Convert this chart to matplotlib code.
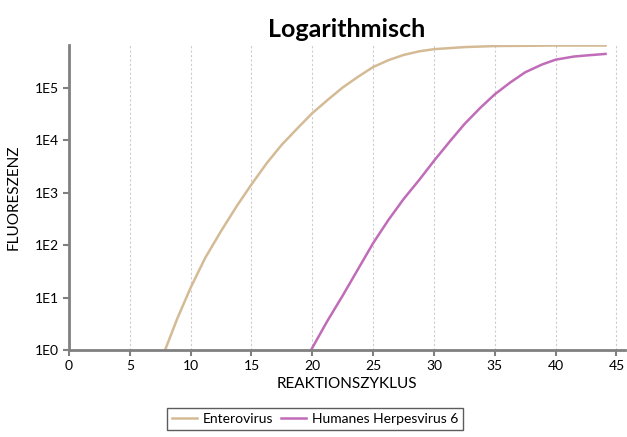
import numpy as np
import matplotlib.pyplot as plt
from matplotlib.ticker import FixedLocator, FixedFormatter, NullLocator

plt.rcParams['font.family'] = ['Lato', 'DejaVu Sans']

# Enterovirus (Zyklus, log10 Fluoreszenz)
entero_x = [7.9, 8.9, 10, 11.2, 12.5, 13.8, 15, 16.27, 17.5, 18.9, 20, 21.3, 22.5, 23.8,
            25, 26.25, 27.5, 28.8, 30, 32.5, 35, 40, 44.1]
entero_y = [0.0, 0.6, 1.19, 1.76, 2.27, 2.75, 3.16, 3.57, 3.92, 4.26, 4.52, 4.78, 5.01, 5.22,
            5.40, 5.53, 5.63, 5.70, 5.74, 5.78, 5.80, 5.81, 5.81]

# Humanes Herpesvirus 6
hhv6_x = [19.9, 21.2, 22.5, 23.8, 25, 26.25, 27.5, 28.8, 30, 31.3, 32.5, 33.8, 35, 36.3,
          37.5, 38.9, 40, 41.5, 42.5, 44.1]
hhv6_y = [0.0, 0.54, 1.04, 1.56, 2.04, 2.48, 2.88, 3.25, 3.61, 3.98, 4.31, 4.62, 4.88, 5.11,
          5.30, 5.45, 5.54, 5.60, 5.62, 5.65]

xticks = [0, 5, 10, 15, 20, 25, 30, 35, 40, 45]
ytick_labels = ['1E0', '1E1', '1E2', '1E3', '1E4', '1E5']

fig = plt.figure(figsize=(6.27, 4.37), dpi=100)
ax = fig.add_axes([69/627, 1 - 350/437, 556/627, 305/437])

ax.plot(entero_x, 10 ** np.array(entero_y), color='#d4bb96', lw=1.8, label='Enterovirus')
ax.plot(hhv6_x, 10 ** np.array(hhv6_y), color='#c06cb8', lw=1.8, label='Humanes Herpesvirus 6')

ax.set_yscale('log')
ax.set_xlim(0, 45.7)
ax.set_ylim(1, 10 ** 5.82)
ax.xaxis.set_major_locator(FixedLocator(xticks))
ax.yaxis.set_major_locator(FixedLocator([10 ** i for i in range(6)]))
ax.yaxis.set_major_formatter(FixedFormatter(ytick_labels))
ax.yaxis.set_minor_locator(NullLocator())

ax.grid(axis='x', color='#cccccc', linestyle=(0, (2, 2)), lw=0.8)
ax.grid(axis='y', visible=False)
for s in ['top', 'right']:
    ax.spines[s].set_visible(False)
for s in ['left', 'bottom']:
    ax.spines[s].set_color('#808080')
    ax.spines[s].set_linewidth(2)
ax.tick_params(axis='both', colors='#808080', labelcolor='black', labelsize=10, length=4, width=1.5)

ax.set_xlabel('REAKTIONSZYKLUS', fontsize=11, labelpad=3)
ax.set_ylabel('FLUORESZENZ', fontsize=11, labelpad=10)
ax.set_title('Logarithmisch', fontsize=18, fontweight='bold', pad=6)

handles, labels = ax.get_legend_handles_labels()
leg = fig.legend(handles, labels, loc='center', bbox_to_anchor=(315/627, 1 - 419/437), ncol=2,
                 frameon=True, fancybox=False, edgecolor='#333333', fontsize=10,
                 handlelength=1.8, columnspacing=0.6, handletextpad=0.4, borderpad=0.35)
leg.get_frame().set_linewidth(1)

fig.savefig('out.png', dpi=100)
